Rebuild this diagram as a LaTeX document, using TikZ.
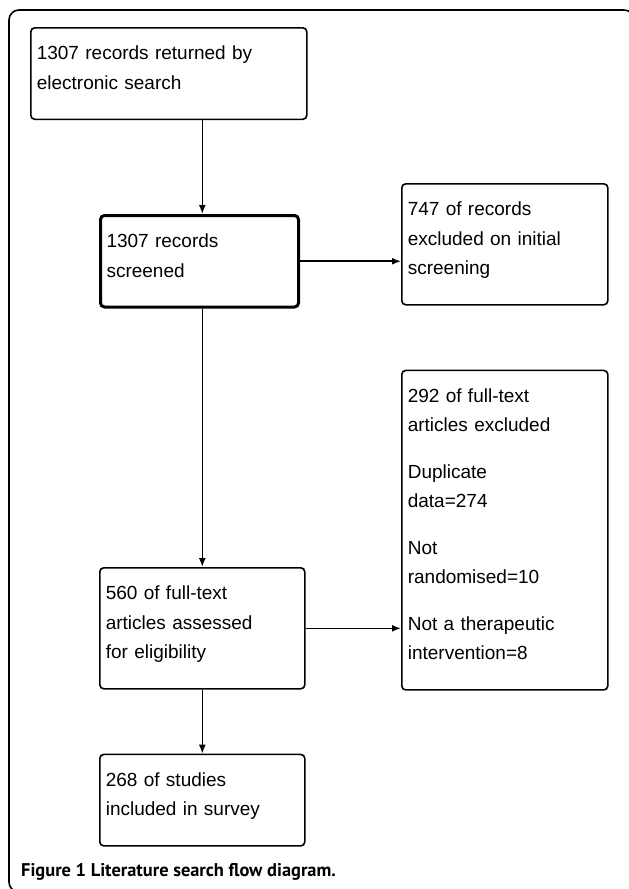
\documentclass[tikz,border=0pt]{standalone}
\usepackage{fontspec}
\setmainfont{Liberation Sans}
\newfontfamily\capfont{PT Sans}
\usepackage{tikz}
\usetikzlibrary{positioning,arrows.meta}

\begin{document}
\begin{tikzpicture}[x=1pt, y=-1pt, node distance=64pt]
    \tikzstyle{box}=[draw, rounded corners=4pt, line width=1.6pt, anchor=north west,
                     align=left, inner xsep=6pt, inner ysep=0pt,
                     font=\fontsize{19}{29.5}\selectfont,
                     execute at begin node={\rule{0pt}{32pt}},
                     execute at end node={\rule[-30pt]{0pt}{30pt}}]
    \tikzstyle{arrow}=[draw, line width=1.6pt, -{Latex[length=9pt,width=7pt]}]
    \tikzstyle{caption}=[font=\capfont\bfseries\fontsize{18.4}{22}\selectfont, anchor=base west, inner sep=0pt]

    \useasboundingbox (0,0) rectangle (629,889);
    \clip (0,0) rectangle (629,889);
    % outer frame
    \draw[line width=1.6pt, rounded corners=10pt] (9,10) rectangle (634,892);

    \node[box, text width=264pt] (returned) at (30,27)
          {1307 records returned by\\electronic search};
    \node[box, text width=186pt, line width=3pt] (screened) at (99,214)
          {1307 records\\screened};
    \node[box, text width=194pt] (excl1) at (401,183)
          {747 of records\\excluded on initial\\screening};
    \node[box, text width=194pt, below=of excl1] (excl2)
          {292 of full-text\\articles excluded\\[17pt]Duplicate\\data=274\\[17pt]Not\\randomised=10\\[17pt]Not a therapeutic\\intervention=8};
    \node[box, text width=193pt] (assessed) at (99,567)
          {560 of full-text\\articles assessed\\for eligibility};
    \node[box, text width=193pt, below=of assessed] (included)
          {268 of studies\\included in survey};

    \draw[arrow] (assessed.north |- returned.south) -- (assessed.north |- screened.north);
    \draw[arrow] (screened.east) -- (screened.east -| excl1.west);
    \draw[arrow] (assessed.north |- screened.south) -- (assessed.north);
    \draw[arrow] (assessed.east) -- (assessed.east -| excl2.west);
    \draw[arrow] (assessed) -- (included);

    \node[caption] (cap) at (21,876) {Figure 1 Literature search flow diagram.};
\end{tikzpicture}
\end{document}
